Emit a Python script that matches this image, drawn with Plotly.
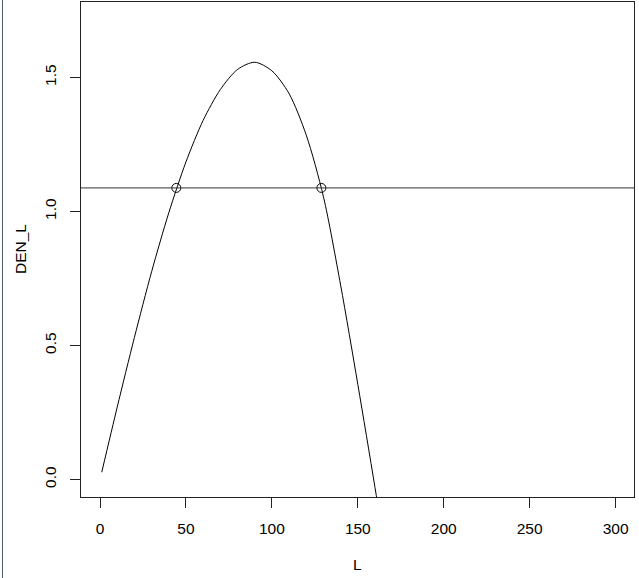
import plotly.graph_objects as go

# Curve
L = [1, 10, 20, 30, 40, 50, 60, 70, 80, 90, 100, 110, 120, 130, 140, 150, 160, 170]
DEN_L = [0.027, 0.27, 0.53, 0.775, 0.995, 1.185, 1.34, 1.455, 1.53, 1.557, 1.525,
         1.44, 1.285, 1.055, 0.725, 0.355, -0.03, -0.43]

# horizontal reference level and intersection points
level = 1.088
cross_L = [44.4, 128.8]
cross_D = [1.088, 1.088]

x_ticks = [0, 50, 100, 150, 200, 250, 300]
y_ticks = [0.0, 0.5, 1.0, 1.5]
y_tick_text = ["0.0", "0.5", "1.0", "1.5"]

FONT = "Liberation Sans, Arial, Helvetica, sans-serif"
FS = 15.5

fig = go.Figure()
fig.add_trace(go.Scatter(x=L, y=DEN_L, mode="lines",
                         line=dict(color="black", width=1, shape="spline", smoothing=0.8),
                         hoverinfo="skip", showlegend=False))
fig.add_trace(go.Scatter(x=cross_L, y=cross_D, mode="markers",
                         marker=dict(symbol="circle-open", size=9, color="black",
                                     line=dict(width=1, color="black")),
                         showlegend=False))
fig.add_hline(y=level, line=dict(color="#333333", width=1))

# page frame line on far left
fig.add_shape(type="line", xref="paper", yref="paper",
              x0=-0.142, x1=-0.142, y0=-0.17, y1=1.01,
              line=dict(color="#505a6a", width=1))

fig.add_annotation(text="L", xref="paper", yref="paper", x=0.5, y=-0.137,
                   showarrow=False, font=dict(family=FONT, size=FS, color="black"),
                   yanchor="middle", xanchor="center")
fig.add_annotation(text="DEN_L", xref="paper", yref="paper", x=-0.1094, y=0.5,
                   showarrow=False, textangle=-90,
                   font=dict(family=FONT, size=FS, color="black"),
                   yanchor="middle", xanchor="center")

fig.update_layout(
    width=639, height=578,
    margin=dict(l=81, r=5, t=2, b=81),
    paper_bgcolor="white", plot_bgcolor="white",
    font=dict(family=FONT, size=FS, color="black"),
    xaxis=dict(range=[-11.07, 310.7], tickvals=x_ticks, ticks="outside", ticklen=10,
               tickcolor="#222222", showgrid=False, zeroline=False,
               showline=True, mirror=True, linecolor="#222222", linewidth=1,
               ticklabelstandoff=7),
    yaxis=dict(range=[-0.0653, 1.7817], tickvals=y_ticks, ticktext=y_tick_text,
               ticks="outside", ticklen=10, tickangle=-90,
               tickcolor="#222222", showgrid=False, zeroline=False,
               showline=True, mirror=True, linecolor="#222222", linewidth=1,
               ticklabelstandoff=8),
)

fig.write_html("out.html", config={"displayModeBar": False},
               post_script="document.body.style.margin='0';document.body.style.overflow='hidden';")
